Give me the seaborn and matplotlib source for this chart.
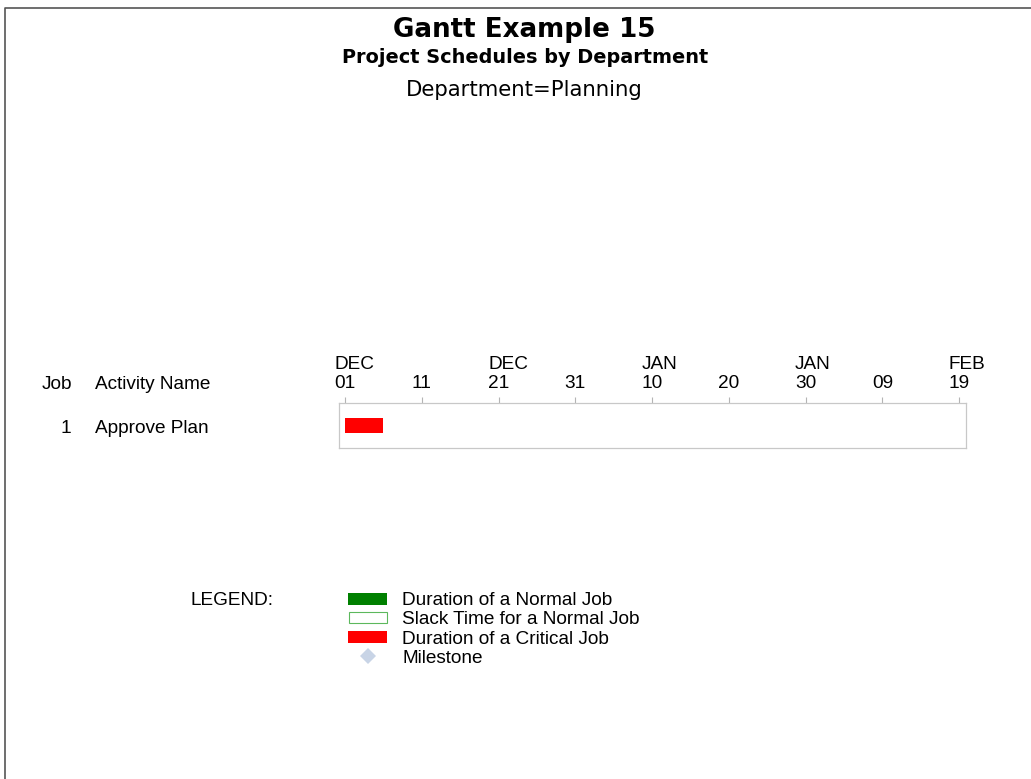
import pandas as pd
import numpy as np
import matplotlib
matplotlib.use("Agg")
import matplotlib.pyplot as plt
import matplotlib.dates as mdates
import matplotlib.transforms as mtransforms
from matplotlib.patches import Rectangle
import seaborn as sns

# schedule data
job = [1]
activity = ["Approve Plan"]
e_start = ["2003-12-01"]
e_finish = ["2003-12-06"]
critical = [True]

# axis ticks (every 10 days)
tick_dates = pd.date_range("2003-12-01", "2004-02-19", freq="10D")
axis_start = "2003-11-30 05:15"
axis_end = "2004-02-19 21:30"

legend_labels = ["Duration of a Normal Job", "Slack Time for a Normal Job",
                 "Duration of a Critical Job", "Milestone"]

sns.set_theme(style="white")
plt.rcParams['font.family'] = ['Liberation Sans', 'DejaVu Sans']
plt.rcParams['text.color'] = 'black'
body_size = 13.7

W, H = 1031, 779
fig = plt.figure(figsize=(W / 100, H / 100), dpi=100)

# page layer in pixel coordinates
pax = fig.add_axes([0, 0, 1, 1])
pax.set_xlim(0, W)
pax.set_ylim(H, 0)
pax.axis('off')
pax.plot([5, 5, W], [H, 8, 8], color='#555555', lw=1.2, solid_capstyle='butt')

pax.text(524, 37.3, "Gantt Example 15", ha='center', va='baseline',
         fontsize=18.8, fontweight='bold', family='DejaVu Sans')
pax.text(525, 63, "Project Schedules by Department", ha='center', va='baseline',
         fontsize=13.9, fontweight='bold', family='DejaVu Sans')
pax.text(524, 95.7, "Department=Planning", ha='center', va='baseline',
         fontsize=15.3, family='DejaVu Sans')

# gantt axes
ax = fig.add_axes([339 / W, 1 - 448 / H, 627 / W, 45 / H])
df = pd.DataFrame({'job': job, 'activity': activity,
                   'start': pd.to_datetime(e_start), 'finish': pd.to_datetime(e_finish),
                   'critical': critical})
starts = mdates.date2num(df['start'])
dur = mdates.date2num(df['finish']) - starts
colors = ['#ff0000' if c else '#008000' for c in df['critical']]
ax.barh(np.arange(len(df)), dur, left=starts, height=0.34, color=colors, edgecolor='none')
ax.set_ylim(len(df) - 0.5, -0.5)
ax.set_xlim(mdates.date2num(pd.Timestamp(axis_start)), mdates.date2num(pd.Timestamp(axis_end)))
ax.set_yticks([])

labels = []
for i, d in enumerate(tick_dates):
    if i % 2 == 0:
        labels.append(d.strftime('%b').upper() + "\n" + d.strftime('%d'))
    else:
        labels.append(d.strftime('%d'))
ax.set_xticks(mdates.date2num(tick_dates))
ax.set_xticklabels(labels, fontsize=body_size, linespacing=1.2, ha='left', color='black')
ax.xaxis.tick_top()
ax.tick_params(axis='x', direction='out', length=4.3, width=0.8, color='#b4b4b4', pad=3.5)
shift = mtransforms.ScaledTranslation(-10.5 / 100, 0, fig.dpi_scale_trans)
for lab in ax.get_xticklabels():
    lab.set_transform(lab.get_transform() + shift)
for s in ax.spines.values():
    s.set_color('#c8c8c8')
    s.set_linewidth(0.9)

# column headers and row labels
pax.text(72, 389, "Job", ha='right', va='baseline', fontsize=body_size)
pax.text(95, 389, "Activity Name", ha='left', va='baseline', fontsize=body_size)
row_tr = mtransforms.blended_transform_factory(pax.transData, ax.transData)
for i, row in df.iterrows():
    pax.text(71, i + 0.167, str(row['job']), ha='right', va='baseline',
             fontsize=body_size, transform=row_tr)
    pax.text(95, i + 0.167, row['activity'], ha='left', va='baseline',
             fontsize=body_size, transform=row_tr)

# legend
pax.text(190, 605, "LEGEND:", ha='left', va='baseline', fontsize=body_size)
base = [605, 624.3, 643.5, 662.7]
pax.add_patch(Rectangle((348, 592.5), 39, 12, facecolor='#008000', edgecolor='none'))
pax.add_patch(Rectangle((348.5, 611.5), 38.5, 11.5, facecolor='white', edgecolor='#5cb85c', lw=0.8))
pax.add_patch(Rectangle((348, 630.5), 39, 12, facecolor='#ff0000', edgecolor='none'))
pax.plot([367.5], [656], marker='D', markersize=8, color='#c8d4e6', markeredgewidth=0)
for y, t in zip(base, legend_labels):
    pax.text(402, y, t, ha='left', va='baseline', fontsize=body_size)

fig.savefig("out.png", dpi=100)
